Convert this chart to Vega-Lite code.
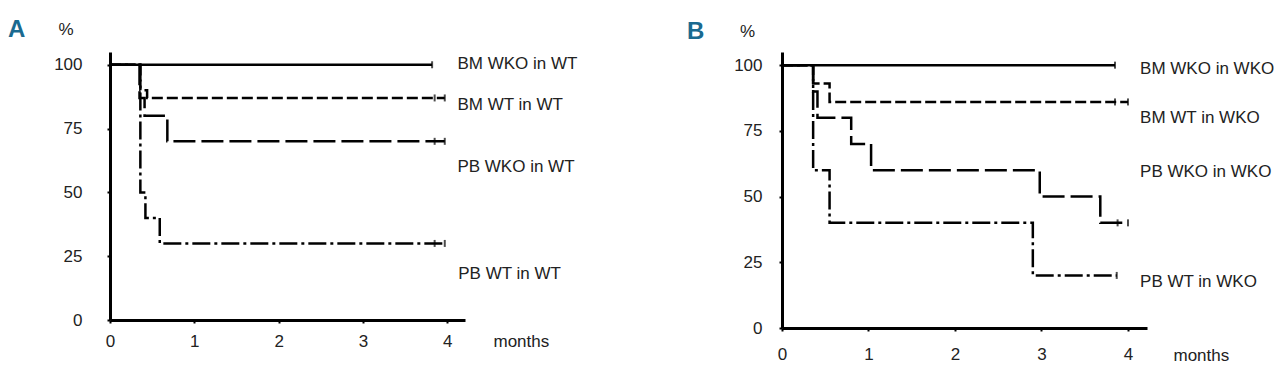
{
  "$schema": "https://vega.github.io/schema/vega-lite/v6.json",
  "background": "white",
  "padding": {"left": 8, "top": 18, "right": 5, "bottom": 5},
  "spacing": 317,
  "bounds": "flush",
  "config": {
    "view": {"stroke": null},
    "font": "Liberation Sans",
    "axis": {
      "domainColor": "#000", "domainWidth": 3, "tickColor": "#000", "tickWidth": 2, "tickSize": 3,
      "grid": false, "labelFont": "Liberation Sans", "labelFontSize": 17, "labelColor": "#222", "format": "d", "labelFlush": false,
      "titleFont": "Liberation Sans", "titleFontSize": 17, "titleFontWeight": "normal", "titleColor": "#222"
    },
    "title": {"font": "Liberation Sans", "fontSize": 24, "fontWeight": "bold", "color": "#1a6a90", "anchor": "start", "frame": "group", "baseline": "alphabetic", "offset": 0}
  },
  "datasets": {
    "linesA": [
      {"g": "BM WKO in WT", "t": 0, "s": 100}, {"g": "BM WKO in WT", "t": 3.82, "s": 100},
      {"g": "BM WT in WT", "t": 0, "s": 100}, {"g": "BM WT in WT", "t": 0.36, "s": 90}, {"g": "BM WT in WT", "t": 0.44, "s": 87}, {"g": "BM WT in WT", "t": 3.97, "s": 87},
      {"g": "PB WKO in WT", "t": 0, "s": 100}, {"g": "PB WKO in WT", "t": 0.35, "s": 87}, {"g": "PB WKO in WT", "t": 0.41, "s": 80}, {"g": "PB WKO in WT", "t": 0.68, "s": 70}, {"g": "PB WKO in WT", "t": 3.97, "s": 70},
      {"g": "PB WT in WT", "t": 0, "s": 100}, {"g": "PB WT in WT", "t": 0.36, "s": 50}, {"g": "PB WT in WT", "t": 0.42, "s": 40}, {"g": "PB WT in WT", "t": 0.59, "s": 30}, {"g": "PB WT in WT", "t": 3.97, "s": 30}
    ],
    "censA": [
      {"g": "BM WKO in WT", "t": 3.82, "s": 100},
      {"g": "BM WT in WT", "t": 3.85, "s": 87}, {"g": "BM WT in WT", "t": 3.97, "s": 87},
      {"g": "PB WKO in WT", "t": 3.85, "s": 70}, {"g": "PB WKO in WT", "t": 3.97, "s": 70},
      {"g": "PB WT in WT", "t": 3.85, "s": 30}, {"g": "PB WT in WT", "t": 3.97, "s": 30}
    ],
    "labA": [
      {"label": "BM WKO in WT", "t": 4.12, "s": 100.4},
      {"label": "BM WT in WT", "t": 4.12, "s": 84.3},
      {"label": "PB WKO in WT", "t": 4.12, "s": 59.8},
      {"label": "PB WT in WT", "t": 4.13, "s": 18.1}
    ],
    "linesB": [
      {"g": "BM WKO in WKO", "t": 0, "s": 100}, {"g": "BM WKO in WKO", "t": 3.85, "s": 100},
      {"g": "BM WT in WKO", "t": 0, "s": 100}, {"g": "BM WT in WKO", "t": 0.36, "s": 93}, {"g": "BM WT in WKO", "t": 0.55, "s": 86}, {"g": "BM WT in WKO", "t": 4.0, "s": 86},
      {"g": "PB WKO in WKO", "t": 0, "s": 100}, {"g": "PB WKO in WKO", "t": 0.36, "s": 90}, {"g": "PB WKO in WKO", "t": 0.41, "s": 80}, {"g": "PB WKO in WKO", "t": 0.8, "s": 70}, {"g": "PB WKO in WKO", "t": 1.03, "s": 60}, {"g": "PB WKO in WKO", "t": 2.98, "s": 50}, {"g": "PB WKO in WKO", "t": 3.68, "s": 40}, {"g": "PB WKO in WKO", "t": 4.0, "s": 40},
      {"g": "PB WT in WKO", "t": 0, "s": 100}, {"g": "PB WT in WKO", "t": 0.36, "s": 60}, {"g": "PB WT in WKO", "t": 0.55, "s": 40}, {"g": "PB WT in WKO", "t": 2.9, "s": 20}, {"g": "PB WT in WKO", "t": 3.87, "s": 20}
    ],
    "censB": [
      {"g": "BM WKO in WKO", "t": 3.85, "s": 100},
      {"g": "BM WT in WKO", "t": 3.85, "s": 86}, {"g": "BM WT in WKO", "t": 4.0, "s": 86},
      {"g": "PB WKO in WKO", "t": 3.88, "s": 40}, {"g": "PB WKO in WKO", "t": 4.0, "s": 40},
      {"g": "PB WT in WKO", "t": 3.87, "s": 20}
    ],
    "labB": [
      {"label": "BM WKO in WKO", "t": 4.14, "s": 98.5},
      {"label": "BM WT in WKO", "t": 4.14, "s": 79.8},
      {"label": "PB WKO in WKO", "t": 4.14, "s": 59.2},
      {"label": "PB WT in WKO", "t": 4.14, "s": 17.4}
    ]
  },
  "hconcat": [
    {
      "width": 355, "height": 268,
      "title": {"text": "A", "dx": -102, "dy": 26},
      "layer": [
        {
          "data": {"name": "linesA"},
          "mark": {"type": "line", "interpolate": "step-after", "color": "#000", "strokeWidth": 2.5},
          "encoding": {
            "x": {"field": "t", "type": "quantitative", "scale": {"domain": [0, 4.21], "nice": false},
                  "axis": {"values": [0, 1, 2, 3, 4], "labelPadding": 10, "title": "months", "titleX": 383, "titleY": 26, "titleAlign": "left", "titleBaseline": "alphabetic", "titleAnchor": "start"}},
            "y": {"field": "s", "type": "quantitative", "scale": {"domain": [0, 105], "nice": false},
                  "axis": {"values": [0, 25, 50, 75, 100], "labelPadding": 25, "title": "%", "titleAngle": 0, "titleX": -44.5, "titleY": -18, "titleAlign": "center", "titleBaseline": "alphabetic"}},
            "detail": {"field": "g"},
            "strokeDash": {"field": "g", "type": "nominal", "legend": null,
              "scale": {"domain": ["BM WKO in WT", "BM WT in WT", "PB WKO in WT", "PB WT in WT"], "range": [[1, 0], [11, 4], [22, 6], [18, 4, 3, 4]]}}
          }
        },
        {
          "data": {"name": "censA"},
          "mark": {"type": "tick", "orient": "vertical", "color": "#000", "thickness": 2, "size": 7},
          "encoding": {"x": {"field": "t", "type": "quantitative"}, "y": {"field": "s", "type": "quantitative"}}
        },
        {
          "data": {"name": "labA"},
          "mark": {"type": "text", "align": "left", "baseline": "middle", "fontSize": 17, "color": "#222", "font": "Liberation Sans"},
          "encoding": {"x": {"field": "t", "type": "quantitative"}, "y": {"field": "s", "type": "quantitative"}, "text": {"field": "label"}}
        }
      ]
    },
    {
      "width": 365, "height": 276,
      "title": {"text": "B", "dx": -95, "dy": 26},
      "layer": [
        {
          "data": {"name": "linesB"},
          "mark": {"type": "line", "interpolate": "step-after", "color": "#000", "strokeWidth": 2.5},
          "encoding": {
            "x": {"field": "t", "type": "quantitative", "scale": {"domain": [0, 4.22], "nice": false},
                  "axis": {"values": [0, 1, 2, 3, 4], "labelPadding": 15, "title": "months", "titleX": 391, "titleY": 32, "titleAlign": "left", "titleBaseline": "alphabetic", "titleAnchor": "start"}},
            "y": {"field": "s", "type": "quantitative", "scale": {"domain": [0, 105], "nice": false},
                  "axis": {"values": [0, 25, 50, 75, 100], "labelPadding": 17, "title": "%", "titleAngle": 0, "titleX": -35, "titleY": -16, "titleAlign": "center", "titleBaseline": "alphabetic"}},
            "detail": {"field": "g"},
            "strokeDash": {"field": "g", "type": "nominal", "legend": null,
              "scale": {"domain": ["BM WKO in WKO", "BM WT in WKO", "PB WKO in WKO", "PB WT in WKO"], "range": [[1, 0], [11, 4], [22, 6], [18, 4, 3, 4]]}}
          }
        },
        {
          "data": {"name": "censB"},
          "mark": {"type": "tick", "orient": "vertical", "color": "#000", "thickness": 2, "size": 7},
          "encoding": {"x": {"field": "t", "type": "quantitative"}, "y": {"field": "s", "type": "quantitative"}}
        },
        {
          "data": {"name": "labB"},
          "mark": {"type": "text", "align": "left", "baseline": "middle", "fontSize": 17, "color": "#222", "font": "Liberation Sans"},
          "encoding": {"x": {"field": "t", "type": "quantitative"}, "y": {"field": "s", "type": "quantitative"}, "text": {"field": "label"}}
        }
      ]
    }
  ]
}
